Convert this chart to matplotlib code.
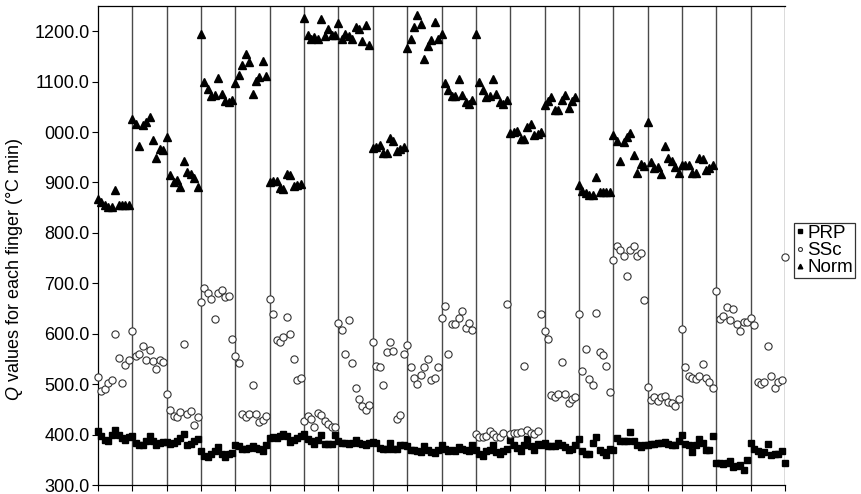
import numpy as np
import matplotlib
matplotlib.use("Agg")
import matplotlib.pyplot as plt

plt.rcParams['font.family'] = ['Liberation Sans', 'DejaVu Sans']
plt.rcParams['mathtext.fontset'] = 'custom'
plt.rcParams['mathtext.rm'] = 'Liberation Sans'
plt.rcParams['mathtext.it'] = 'Liberation Sans:italic'

# Q values, 10 readings per finger group (20 groups), one extra reading at the end
prp = [407, 397, 390, 388, 400, 409, 400, 393, 390, 395,
       397, 383, 379, 380, 388, 397, 388, 380, 383, 385,
       385, 382, 383, 387, 393, 402, 379, 381, 387, 392,
       368, 357, 356, 362, 367, 375, 361, 355, 362, 364,
       380, 377, 372, 372, 374, 377, 374, 372, 368, 380,
       393, 395, 393, 397, 401, 397, 386, 389, 393, 397,
       401, 391, 388, 381, 389, 400, 381, 381, 381, 400,
       387, 383, 383, 381, 383, 389, 383, 381, 379, 383,
       385, 383, 374, 372, 372, 383, 372, 372, 380, 379,
       377, 370, 370, 367, 366, 377, 370, 366, 364, 370,
       379, 372, 368, 370, 368, 375, 372, 369, 367, 379,
       370, 362, 358, 367, 370, 380, 366, 362, 367, 372,
       389, 380, 374, 368, 380, 391, 377, 370, 381, 379,
       383, 377, 377, 377, 383, 380, 375, 370, 372, 379,
       391, 368, 362, 362, 383, 395, 370, 366, 360, 372,
       370, 393, 387, 387, 388, 405, 388, 379, 375, 379,
       380, 381, 381, 383, 383, 385, 381, 380, 379, 387,
       399, 381, 379, 366, 379, 392, 383, 370, 370, 397,
       344, 344, 342, 344, 347, 335, 337, 340, 330, 349,
       383, 372, 368, 362, 366, 381, 360, 362, 362, 368,
       344]

ssc = [515, 487, 491, 502, 508, 599, 552, 503, 538, 548,
       605, 555, 559, 575, 548, 568, 546, 530, 548, 544,
       481, 449, 436, 435, 444, 579, 440, 446, 419, 435,
       663, 691, 681, 669, 630, 680, 687, 672, 675, 589,
       555, 541, 440, 434, 440, 498, 440, 424, 429, 436,
       669, 640, 587, 584, 593, 634, 599, 550, 508, 512,
       427, 437, 430, 416, 442, 439, 427, 421, 415, 415,
       622, 608, 559, 627, 541, 492, 471, 456, 448, 458,
       584, 536, 534, 498, 563, 584, 566, 430, 438, 559,
       577, 534, 513, 501, 518, 534, 549, 508, 513, 534,
       631, 656, 559, 619, 619, 631, 646, 611, 621, 607,
       401, 396, 396, 397, 407, 401, 396, 396, 403, 658,
       402, 403, 404, 406, 536, 409, 404, 402, 407, 639,
       605, 590, 479, 474, 481, 543, 480, 463, 470, 475,
       640, 527, 570, 510, 499, 642, 564, 558, 536, 484,
       746, 775, 766, 755, 714, 766, 775, 755, 760, 666,
       495, 469, 474, 466, 475, 477, 464, 462, 456, 470,
       609, 535, 517, 512, 510, 517, 540, 512, 504, 492,
       684, 629, 635, 654, 628, 649, 620, 606, 624, 623,
       631, 617, 505, 501, 505, 575, 517, 492, 504, 508,
       752]

norm = [867, 862, 856, 852, 851, 885, 856, 856, 856, 855,
        1026, 1015, 973, 1013, 1020, 1030, 984, 948, 967, 964,
        991, 914, 901, 905, 891, 943, 920, 916, 909, 892,
        1195, 1100, 1085, 1072, 1074, 1107, 1075, 1062, 1059, 1063,
        1097, 1114, 1133, 1155, 1138, 1075, 1102, 1109, 1140, 1112,
        900, 902, 903, 889, 888, 917, 915, 893, 895, 897,
        1227, 1193, 1184, 1189, 1184, 1225, 1190, 1205, 1192, 1193,
        1217, 1184, 1195, 1191, 1185, 1209, 1205, 1180, 1212, 1172,
        968, 971, 975, 959, 959, 989, 983, 962, 966, 970,
        1166, 1185, 1209, 1233, 1214, 1144, 1170, 1183, 1219, 1184,
        1194, 1097, 1084, 1071, 1071, 1106, 1074, 1060, 1055, 1063,
        1194, 1100, 1084, 1070, 1071, 1106, 1075, 1060, 1055, 1063,
        998, 1000, 1003, 987, 987, 1010, 1016, 994, 997, 1000,
        1054, 1061, 1070, 1043, 1043, 1064, 1073, 1048, 1061, 1070,
        895, 884, 879, 875, 875, 911, 882, 882, 882, 881,
        995, 983, 942, 981, 990, 999, 955, 919, 937, 933,
        1020, 940, 928, 930, 917, 972, 948, 942, 930, 919,
        934, 935, 935, 919, 919, 948, 946, 925, 928, 935]

y_ticks = [300, 400, 500, 600, 700, 800, 900, 1000, 1100, 1200]
y_tick_labels = ["300.0", "400.0", "500.0", "600.0", "700.0", "800.0",
                 "900.0", "000.0", "1100.0", "1200.0"]

n_groups = 20
group_size = 10

fig = plt.figure(figsize=(8.61, 4.94), dpi=100)
ax = fig.add_axes([98 / 861, 9 / 494, 687 / 861, 479 / 494])

# group separators
for k in range(1, n_groups + 1):
    ax.axvline(k * group_size, color="#4a4a4a", lw=1.0, zorder=1)

ax.plot(np.arange(len(prp)), prp, ls="none", marker="s", ms=4.6,
        color="black", label="PRP", clip_on=False, zorder=3)
ax.plot(np.arange(len(ssc)), ssc, ls="none", marker="o", ms=5.2,
        mfc="white", mec="#333333", mew=0.8, label="SSc", clip_on=False, zorder=3)
ax.plot(np.arange(len(norm)), norm, ls="none", marker="^", ms=6.0,
        color="black", label="Norm", clip_on=False, zorder=3)

ax.set_xlim(0, n_groups * group_size)
ax.set_ylim(300, 1250)
ax.set_xticks(np.arange(0, n_groups * group_size + 1, group_size))
ax.set_xticklabels([])
ax.set_yticks(y_ticks)
ax.set_yticklabels(y_tick_labels)
ax.tick_params(axis="both", direction="out", length=4, width=0.8, labelsize=13, pad=2)

for s in ["top", "left", "bottom"]:
    ax.spines[s].set_linewidth(0.9)
ax.spines["right"].set_visible(False)

ax.set_ylabel(r"$Q$ values for each finger (°C min)", fontsize=13)
ax.yaxis.set_label_coords(-0.106, 0.45)

leg = ax.legend(loc="upper left", bbox_to_anchor=(794 / 861, 1 - 223 / 494),
                bbox_transform=fig.transFigure, fontsize=13.5, frameon=True,
                fancybox=False, edgecolor="black", handlelength=0.4,
                handletextpad=0.2, borderpad=0.1, labelspacing=0.0,
                borderaxespad=0, markerscale=0.55)
leg.get_frame().set_linewidth(0.9)

fig.savefig("out.png", dpi=100)
